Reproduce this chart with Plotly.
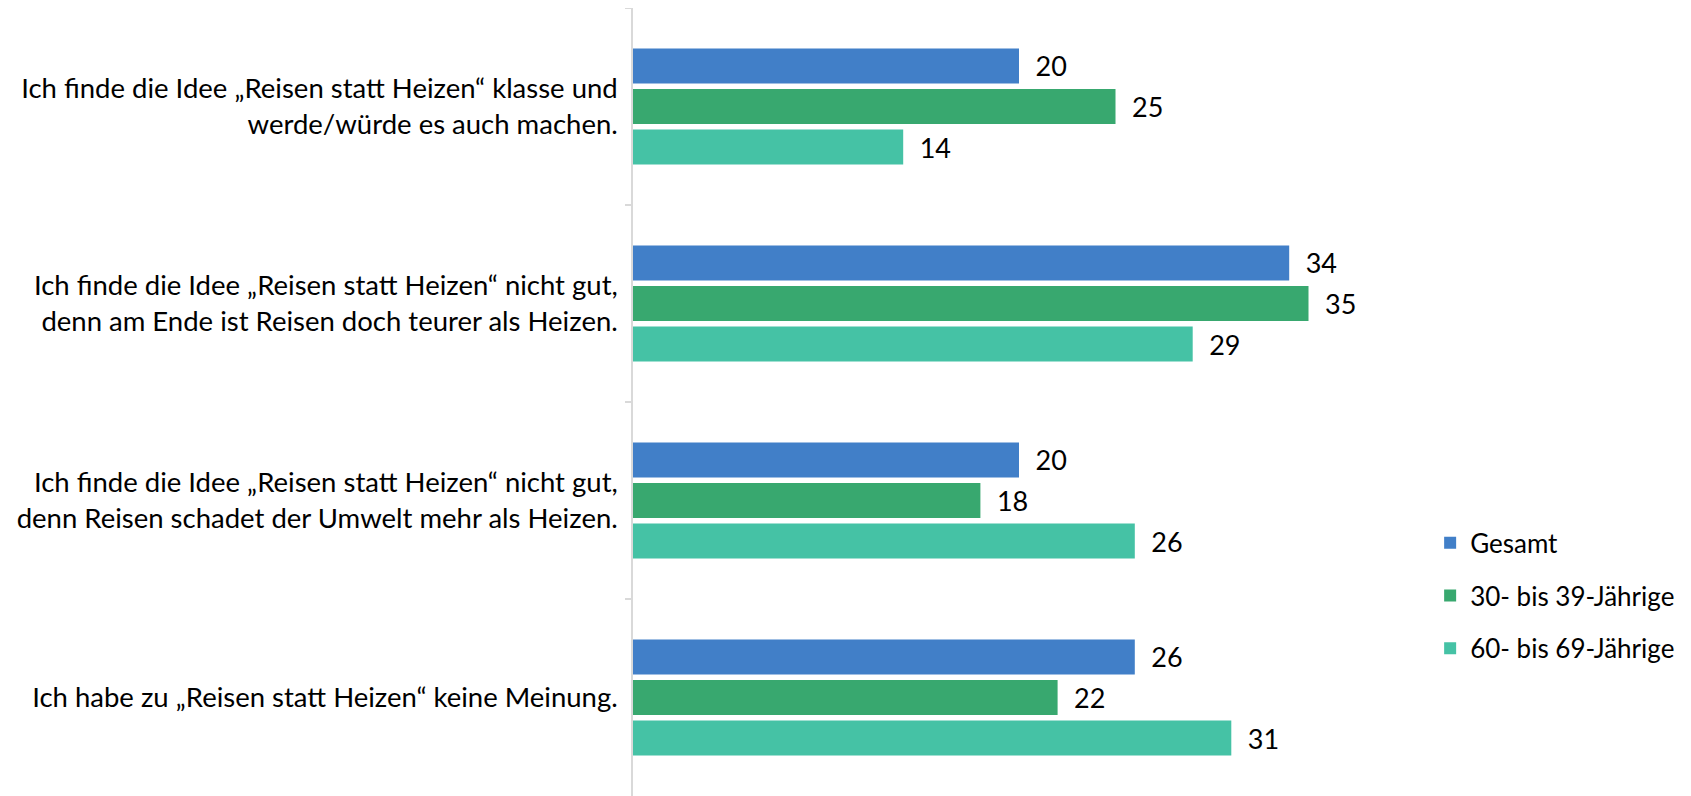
import plotly.graph_objects as go

categories = [
    "Ich finde die Idee „Reisen statt Heizen“ klasse und<br>werde/würde es auch machen.",
    "Ich finde die Idee „Reisen statt Heizen“ nicht gut,<br>denn am Ende ist Reisen doch teurer als Heizen.",
    "Ich finde die Idee „Reisen statt Heizen“ nicht gut,<br>denn Reisen schadet der Umwelt mehr als Heizen.",
    "Ich habe zu „Reisen statt Heizen“ keine Meinung.",
]
series_names = ["Gesamt", "30- bis 39-Jährige", "60- bis 69-Jährige"]
gesamt = [20, 34, 20, 26]
age_30_39 = [25, 35, 18, 22]
age_60_69 = [14, 29, 26, 31]
colors = ["#417FC8", "#38A86F", "#45C2A5"]

FONT = "Lato"
FS = 27.5
fig = go.Figure()
for i, (name, vals) in enumerate(zip(series_names, [gesamt, age_30_39, age_60_69])):
    fig.add_trace(go.Bar(
        y=categories, x=vals, orientation="h", name=name,
        marker=dict(color=colors[i], line=dict(width=0)),
        text=vals, texttemplate="\u2002%{x}", textposition="outside",
        textfont=dict(family=FONT, size=27, color="#000000"),
        cliponaxis=False, legendgroup=f"g{i}",
    ))

# page body has an 8px default margin, so the figure is 8px smaller
fig.update_layout(
    width=1683, height=788,
    margin=dict(l=625, r=286, t=0, b=0, autoexpand=False),
    paper_bgcolor="white", plot_bgcolor="white",
    barmode="group", bargap=0.383, bargroupgap=0.136,
    font=dict(family=FONT, size=FS, color="#000000"),
    showlegend=True,
    legend=dict(
        xref="container", yref="container",
        x=0.845, y=0.254, xanchor="left", yanchor="middle",
        font=dict(family=FONT, size=26, color="#000000"),
        traceorder="grouped", tracegroupgap=16,
        bgcolor="rgba(0,0,0,0)",
    ),
)
fig.update_xaxes(range=[0, 40], visible=False, showgrid=False, zeroline=False)
fig.update_yaxes(
    autorange="reversed", showline=True, linecolor="#D9D9D9", linewidth=1.5,
    ticks="outside", tickson="boundaries", ticklen=6, tickcolor="#D9D9D9", tickwidth=1.5,
    showgrid=False, ticklabelstandoff=8, automargin=False,
    tickfont=dict(family=FONT, size=FS, color="#000000"),
)

fig.write_html("out.html")
